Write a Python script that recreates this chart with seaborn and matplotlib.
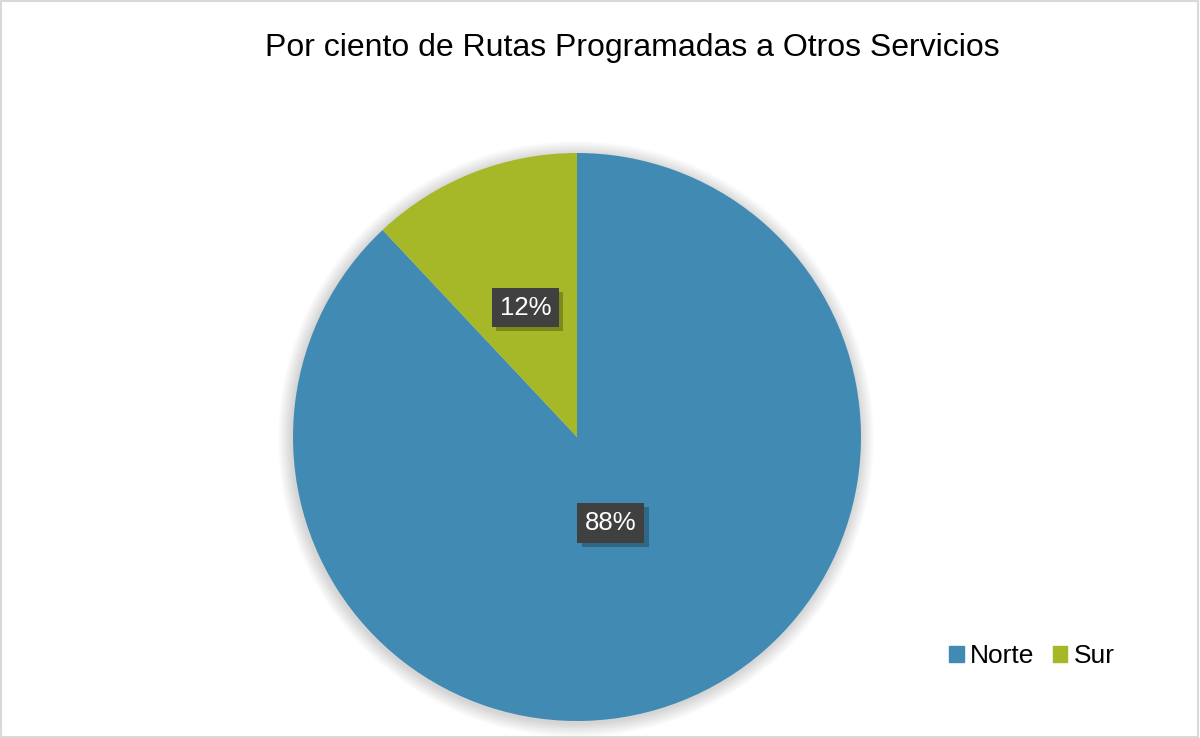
import matplotlib
matplotlib.use("Agg")
from matplotlib import pyplot as plt
from matplotlib.patches import Rectangle, Circle
from matplotlib import patheffects
import numpy as np
import seaborn as sns

categories = ["Norte", "Sur"]
shares = [88, 12]
pct_labels = ["88%", "12%"]
colors = ["#418AB3", "#A6B727"]

sns.set_theme(style="white")
plt.rcParams['font.family'] = ['Liberation Sans', 'DejaVu Sans']

fig = plt.figure(figsize=(12, 7.38), dpi=100)
ax = fig.add_axes([0, 0, 1, 1])

cx, cy, r = 577, 301, 284

# sombra suave alrededor del pastel
for i in range(14):
    ax.add_patch(Circle((cx - 1, cy - 2), r + 14 - i, color='black', alpha=0.01, lw=0))

wedges, _ = ax.pie(shares, colors=colors, startangle=90, counterclock=False,
                   center=(cx, cy), radius=r, frame=True,
                   wedgeprops=dict(linewidth=0))
ax.set_xlim(0, 1200)
ax.set_ylim(0, 738)
ax.set_aspect('equal')
ax.axis('off')

# etiquetas de porcentaje
dist = [0.325, 0.49]
for w, lab, d in zip(wedges, pct_labels, dist):
    ang = np.deg2rad((w.theta1 + w.theta2) / 2)
    x = cx + d * r * np.cos(ang)
    y = cy + d * r * np.sin(ang)
    t = ax.text(x, y, lab, ha='center', va='center', fontsize=18.5, color='white',
                bbox=dict(boxstyle='square,pad=0.3', fc='#404040', ec='none'))
    t.get_bbox_patch().set_path_effects([
        patheffects.SimplePatchShadow(offset=(3, -3), shadow_rgbFace='black', alpha=0.25),
        patheffects.Normal()])

ax.text(632, 738 - 48, "Por ciento de Rutas Programadas a Otros Servicios",
        ha='center', va='center', fontsize=23, color='black')

handles = [Rectangle((0, 0), 1, 1, color=c) for c in colors]
fig.legend(handles, categories, loc='center', bbox_to_anchor=(1032 / 1200, 1 - 656 / 738),
           ncol=2, frameon=False, fontsize=19, handlelength=0.55, handleheight=0.55,
           handletextpad=0.25, columnspacing=0.68, labelcolor='black')

fig.add_artist(Rectangle((0.001, 0.001), 0.997, 0.997, transform=fig.transFigure,
                         fill=False, ec='#D9D9D9', lw=1.5))

fig.savefig("out.png", dpi=100)
